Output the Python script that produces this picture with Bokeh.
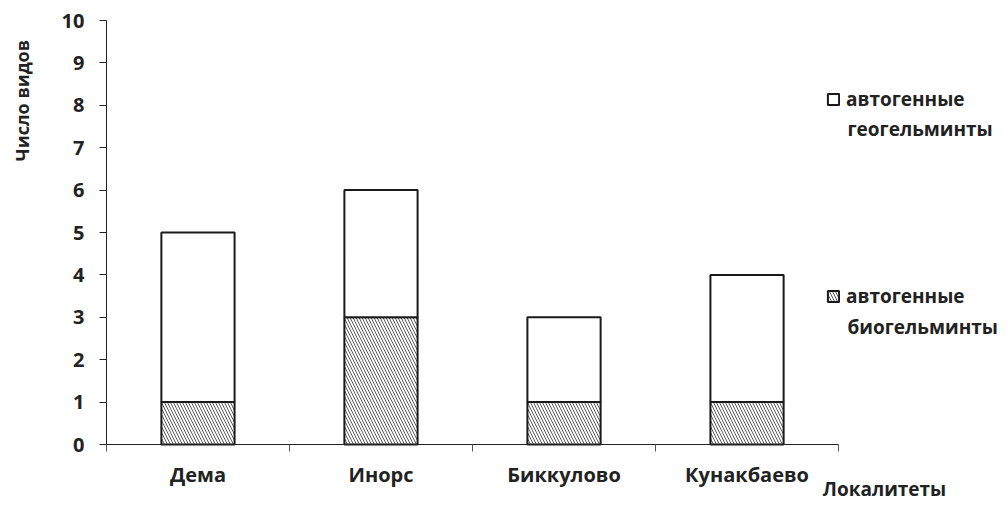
import math
from bokeh.plotting import figure
from bokeh.models import (ColumnDataSource, FixedTicker, Label, Legend, LegendItem, LinearAxis, Range1d)
from bokeh.embed import file_html
from bokeh.resources import INLINE

categories = ["Дема", "Инорс", "Биккулово", "Кунакбаево"]
bio = [1, 3, 1, 1]
geo = [4, 3, 2, 3]
y_ticks = [0, 1, 2, 3, 4, 5, 6, 7, 8, 9, 10]
legend_geo = ["автогенные", "геогельминты"]
legend_bio = ["автогенные", "биогельминты"]
y_title = "Число видов"
x_title = "Локалитеты"

FONT = "Open Sans"
FS = "20px"
LFS = "19px"
TXT = "#222222"
X_START = -0.579  # frame extends left so the y title sits inside it
X_END = 4.885     # frame extends right so the legend sits inside it
Y_START = -1.745  # frame extends down so the x title sits inside it
Y_END = 10.472    # frame extends up so the top tick label is not clipped

n = len(categories)
xs = [i + 0.5 for i in range(n)]
src = ColumnDataSource(dict(x=xs, bio=bio, geo=geo, total=[b + g for b, g in zip(bio, geo)]))

p = figure(width=1000, height=520, output_backend="svg", toolbar_location=None,
           x_range=Range1d(X_START, X_END), y_range=Range1d(Y_START, Y_END),
           x_axis_type=None, y_axis_type=None,
           min_border_left=0, min_border_right=0, min_border_top=0, min_border_bottom=2)
p.outline_line_color = None
p.xgrid.visible = False
p.ygrid.visible = False
p.background_fill_color = "white"

r_bio = p.vbar(x="x", bottom=0, top="bio", width=0.4, source=src,
               fill_color="white", line_color="#1a1a1a", line_width=2,
               hatch_pattern="left_diagonal_line", hatch_color="#5a5a5a",
               hatch_scale=6, hatch_weight=1)
r_geo = p.vbar(x="x", bottom="bio", top="total", width=0.4, source=src,
               fill_color="white", line_color="#1a1a1a", line_width=2)

xaxis = LinearAxis(ticker=FixedTicker(ticks=xs, minor_ticks=list(range(n + 1))),
                   major_label_overrides={x: c for x, c in zip(xs, categories)},
                   bounds=(0, n), fixed_location=0)
xaxis.major_tick_line_color = None
xaxis.minor_tick_line_color = "#555555"
xaxis.minor_tick_in = 0
xaxis.minor_tick_out = 7
xaxis.axis_line_color = "#222222"
xaxis.major_label_text_font = FONT
xaxis.major_label_text_font_style = "bold"
xaxis.major_label_text_font_size = FS
xaxis.major_label_text_color = TXT
xaxis.major_label_standoff = 9
p.add_layout(xaxis, "below")

yaxis = LinearAxis(ticker=FixedTicker(ticks=y_ticks), bounds=(0, 10), fixed_location=0)
yaxis.major_tick_in = 0
yaxis.major_tick_out = 7
yaxis.minor_tick_line_color = None
yaxis.axis_line_color = "#222222"
yaxis.major_tick_line_color = "#222222"
yaxis.major_label_text_font = FONT
yaxis.major_label_text_font_style = "bold"
yaxis.major_label_text_font_size = FS
yaxis.major_label_text_color = TXT
yaxis.major_label_standoff = 15
p.add_layout(yaxis, "left")

p.add_layout(Label(x=-0.459, y=8.11, text=y_title, angle=math.pi / 2,
                   text_align="center", text_baseline="middle",
                   text_font=FONT, text_font_style="bold", text_font_size="18px", text_color=TXT))

p.add_layout(Label(x=4.251, y=-1.06, text=x_title, text_align="center", text_baseline="middle",
                   text_font=FONT, text_font_style="bold", text_font_size="19px", text_color=TXT))

for lines, rend, loc, y2 in [(legend_geo, r_geo, (826, 406), 7.43), (legend_bio, r_bio, (826, 209), 2.78)]:
    lg = Legend(items=[LegendItem(label=lines[0], renderers=[rend])], location=loc)
    lg.background_fill_alpha = 0
    lg.border_line_color = None
    lg.padding = 0
    lg.margin = 0
    lg.glyph_width = 14
    lg.glyph_height = 14
    lg.label_standoff = 6
    lg.label_text_font = FONT
    lg.label_text_font_style = "bold"
    lg.label_text_font_size = LFS
    lg.label_text_color = TXT
    lg.label_height = 24
    p.add_layout(lg, "center")
    p.add_layout(Label(x=4.049, y=y2, text=lines[1], text_align="left", text_baseline="middle",
                       text_font=FONT, text_font_style="bold", text_font_size=LFS, text_color=TXT))

open("out.html", "w").write(file_html(p, INLINE))
